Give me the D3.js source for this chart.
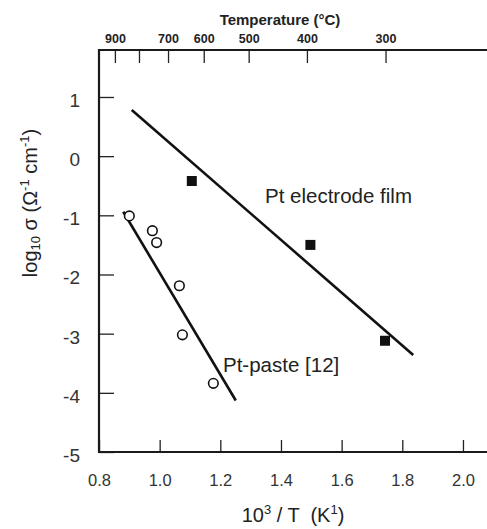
<!DOCTYPE html>
<html>
<head>
<meta charset="utf-8">
<script src="https://cdn.jsdelivr.net/npm/d3@7"></script>
<style>
  body { margin: 0; background: #fff; }
  text { font-family: "Liberation Sans", Arial, sans-serif; fill: #222; }
</style>
</head>
<body>
<script>
// data (x = 1000/T in 1/K, y = log10 sigma)
var filmX = [1.106, 1.497, 1.743];
var filmY = [-0.42, -1.50, -3.12];
var filmFitX = [0.908, 1.836];
var filmFitY = [0.78, -3.36];

var pasteX = [0.900, 0.976, 0.990, 1.065, 1.075, 1.177];
var pasteY = [-1.01, -1.26, -1.46, -2.19, -3.02, -3.84];
var pasteFitX = [0.880, 1.251];
var pasteFitY = [-0.94, -4.13];

var xTicks = [0.8, 1.0, 1.2, 1.4, 1.6, 1.8, 2.0];
var yTicks = [1, 0, -1, -2, -3, -4, -5];
var tempTicks = [900, 800, 700, 600, 500, 400, 300];
var tempLabels = ["900", "", "700", "600", "500", "400", "300"];

var W = 487, H = 529;
var plotLeft = 99, plotRight = 487, plotTop = 50, plotBottom = 452;

var svg = d3.select("body").append("svg")
    .attr("width", W)
    .attr("height", H);

var x = d3.scaleLinear().domain([0.8, 2.08]).range([plotLeft, plotLeft + 1.28 * 303.3]);
var y = d3.scaleLinear().domain([-5, 1.8]).range([plotBottom, plotBottom - 6.8 * 59.17]);

// bottom axis, ticks pointing in
var gx = svg.append("g")
    .attr("transform", "translate(0," + plotBottom + ")")
    .call(d3.axisBottom(x).tickValues(xTicks).tickFormat(d3.format(".1f"))
      .tickSize(-12).tickPadding(22));
gx.select(".domain").remove();
gx.selectAll("text").style("font-size", "16.5px").style("fill", "#333");

// left axis
var gy = svg.append("g")
    .attr("transform", "translate(" + plotLeft + ",0)")
    .call(d3.axisLeft(y).tickValues(yTicks).tickFormat(d3.format("d"))
      .tickSize(-15).tickPadding(19));
gy.select(".domain").remove();
gy.selectAll("text").style("font-size", "19px").style("fill", "#333")
    .attr("dy", "0.5em")
    .text(function(d) { return d < 0 ? "-" + Math.abs(d) : d; });

// top axis in degrees C
var gt = svg.append("g")
    .attr("transform", "translate(0," + plotTop + ")")
    .call(d3.axisTop(x).tickValues(tempTicks.map(function(t) { return 1000 / (t + 273.15); }))
      .tickFormat(function(d, i) { return tempLabels[i]; })
      .tickSize(-13).tickPadding(7));
gt.select(".domain").remove();
gt.selectAll("text").style("font-size", "12.5px").style("font-weight", "bold");

svg.selectAll(".tick line").attr("stroke", "#222").attr("stroke-width", 1.3);

// frame: left, top, bottom (no right side)
svg.append("path")
    .attr("d", "M" + plotRight + "," + plotTop + "H" + plotLeft + "V" + plotBottom + "H" + plotRight)
    .attr("fill", "none")
    .attr("stroke", "#1a1a1a")
    .attr("stroke-width", 2.2);

// fitted lines
var line = d3.line().x(function(d) { return x(d[0]); }).y(function(d) { return y(d[1]); });
svg.append("path")
    .datum(d3.zip(filmFitX, filmFitY))
    .attr("d", line)
    .attr("stroke", "#111").attr("stroke-width", 2.6).attr("fill", "none");
svg.append("path")
    .datum(d3.zip(pasteFitX, pasteFitY))
    .attr("d", line)
    .attr("stroke", "#111").attr("stroke-width", 2.6).attr("fill", "none");

// markers
svg.selectAll(".sq")
    .data(d3.zip(filmX, filmY))
    .enter().append("rect")
    .attr("x", function(d) { return x(d[0]) - 5; })
    .attr("y", function(d) { return y(d[1]) - 5; })
    .attr("width", 10).attr("height", 10)
    .attr("fill", "#111");

svg.selectAll(".ci")
    .data(d3.zip(pasteX, pasteY))
    .enter().append("circle")
    .attr("cx", function(d) { return x(d[0]); })
    .attr("cy", function(d) { return y(d[1]); })
    .attr("r", 4.8)
    .attr("fill", "#fff").attr("stroke", "#111").attr("stroke-width", 1.6);

// series labels
svg.append("text").attr("x", 265).attr("y", 203)
    .style("font-size", "20.5px").text("Pt electrode film");
svg.append("text").attr("x", 223).attr("y", 372)
    .style("font-size", "20.5px").text("Pt-paste [12]");

// titles
svg.append("text").attr("x", 280).attr("y", 25)
    .attr("text-anchor", "middle")
    .style("font-size", "15px").style("font-weight", "bold")
    .text("Temperature (°C)");

var xl = svg.append("text").attr("x", 293).attr("y", 522)
    .attr("text-anchor", "middle").style("font-size", "20px");
xl.append("tspan").text("10");
xl.append("tspan").attr("dy", "-8").style("font-size", "13px").text("3");
xl.append("tspan").attr("dy", "8").text(" / T \u00a0(K");
xl.append("tspan").attr("dy", "-8").style("font-size", "13px").text("1");
xl.append("tspan").attr("dy", "8").text(")");

var yl = svg.append("text")
    .attr("transform", "translate(37,203) rotate(-90)")
    .attr("text-anchor", "middle").style("font-size", "20px");
yl.append("tspan").text("log");
yl.append("tspan").attr("dy", "3").style("font-size", "13px").text("10");
yl.append("tspan").attr("dy", "-3").text(" σ (Ω");
yl.append("tspan").attr("dy", "-8").style("font-size", "13px").text("-1");
yl.append("tspan").attr("dy", "8").text(" cm");
yl.append("tspan").attr("dy", "-8").style("font-size", "13px").text("-1");
yl.append("tspan").attr("dy", "8").text(")");
</script>
</body>
</html>
